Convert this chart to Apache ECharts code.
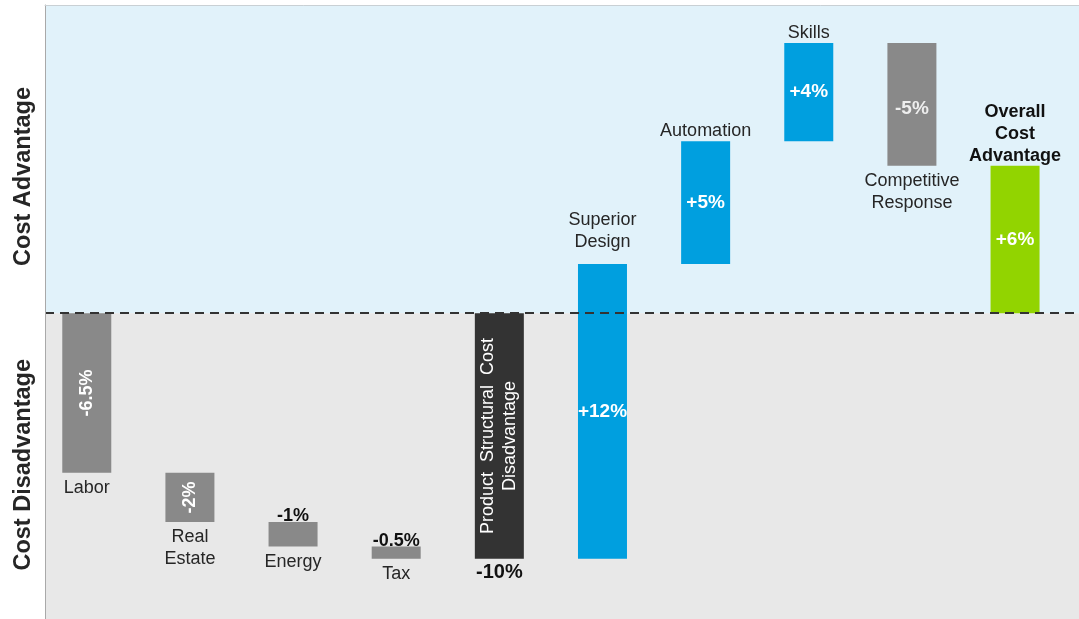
<!DOCTYPE html>
<html>
<head>
<meta charset="utf-8">
<script src="https://cdn.jsdelivr.net/npm/echarts@6/dist/echarts.min.js"></script>
<style>
html,body{margin:0;padding:0;background:#fff;}
#chart{width:1079px;height:619px;}
</style>
</head>
<body>
<div id="chart"></div>
<script>
// ---- data ----
const categories = ['Labor', 'Real\nEstate', 'Energy', 'Tax', 'Product  Structural  Cost\nDisadvantage',
  'Superior\nDesign', 'Automation', 'Skills', 'Competitive\nResponse', 'Overall\nCost\nAdvantage'];
const deltas = [-6.5, -2, -1, -0.5, -10, 12, 5, 4, -5, 6];
const isTotal = [false, false, false, false, true, false, false, false, false, true];
const valueLabels = ['-6.5%', '-2%', '-1%', '-0.5%', '-10%', '+12%', '+5%', '+4%', '-5%', '+6%'];
const axisTitles = ['Cost Advantage', 'Cost Disadvantage'];

// ---- layout / style config ----
const FONT = '"Liberation Sans", Arial, sans-serif';
const catPlace = ['below', 'below', 'below', 'below', 'rotated', 'above', 'above', 'above', 'below', 'above'];
const valPlace = ['rotated', 'rotated', 'above', 'above', 'below', 'inside', 'inside', 'inside', 'inside', 'inside'];
const catExtraGap = [0, 0, 0, 0, 0, 12, 0, 0, 0, 0];
const catBold = [false, false, false, false, false, false, false, false, false, true];

function barColor(i) {
  if (isTotal[i]) return deltas[i] < 0 ? '#333333' : '#92d400';
  return deltas[i] < 0 ? '#898989' : '#009fdf';
}

// waterfall rows built from the data
let run = 0;
const rows = deltas.map((d, i) => {
  let s, e;
  if (isTotal[i]) { s = 0; e = d; } else { s = run; e = run + d; }
  run = e;
  return [i, s, e];
});

const chart = echarts.init(document.getElementById('chart'), null, {renderer: 'canvas'});

function txt(x, y, text, opt) {
  return {
    type: 'text', x: x, y: y, rotation: opt.rotation || 0,
    style: {
      text: text, fill: opt.fill || '#262626',
      font: (opt.bold ? 'bold ' : '') + (opt.size || 18) + 'px ' + FONT,
      lineHeight: opt.lh || 22, align: 'center', verticalAlign: opt.va || 'middle'
    },
    z2: 10
  };
}

function renderItem(params, api) {
  const i = api.value(0), s = api.value(1), e = api.value(2);
  const pTop = api.coord([i, Math.max(s, e)]);
  const pBot = api.coord([i, Math.min(s, e)]);
  const w = 49;
  const cx = pTop[0], top = pTop[1], bot = pBot[1], mid = (top + bot) / 2;
  const children = [{
    type: 'rect', shape: {x: cx - w / 2, y: top, width: w, height: bot - top},
    style: {fill: barColor(i)}
  }];
  // category label
  const cp = catPlace[i];
  if (cp === 'below') children.push(txt(cx, bot + 4, categories[i], {va: 'top', bold: catBold[i]}));
  else if (cp === 'above') children.push(txt(cx, top + 1 - catExtraGap[i], categories[i], {va: 'bottom', bold: catBold[i], size: 18, fill: catBold[i] ? '#111' : '#262626'}));
  else if (cp === 'rotated') children.push(txt(cx, mid, categories[i], {rotation: Math.PI / 2, fill: '#ffffff'}));
  // value label
  const vp = valPlace[i];
  if (vp === 'inside') children.push(txt(cx, mid + (deltas[i] < 0 ? 4 : 0), valueLabels[i], {bold: true, size: 19, fill: deltas[i] < 0 ? '#eeeeee' : '#ffffff'}));
  else if (vp === 'rotated') children.push(txt(cx, mid, valueLabels[i], {rotation: Math.PI / 2, bold: true, fill: '#ffffff'}));
  else if (vp === 'above') children.push(txt(cx, top + 5, valueLabels[i], {va: 'bottom', bold: true, fill: '#111'}));
  else if (vp === 'below') children.push(txt(cx, bot + 3, valueLabels[i], {va: 'top', bold: true, fill: '#111', size: 20}));
  return {type: 'group', children: children};
}

const option = {
  animation: false,
  backgroundColor: '#ffffff',
  grid: {left: 45, top: 5, right: 0, bottom: 0, containLabel: false},
  xAxis: {
    type: 'value', position: 'top', min: -0.405, max: 9.62, z: 10,
    axisLine: {show: true, onZero: false, lineStyle: {color: '#c9d0d4', width: 1}},
    axisTick: {show: false}, axisLabel: {show: false}, splitLine: {show: false}
  },
  yAxis: {
    type: 'value', min: -12.45, max: 12.55, z: 10,
    axisLine: {show: true, onZero: false, lineStyle: {color: '#a9a9a9', width: 1}},
    axisTick: {show: false}, axisLabel: {show: false}, splitLine: {show: false}
  },
  graphic: [
    {type: 'text', left: 12, top: 87, rotation: Math.PI / 2,
      style: {text: axisTitles[0], font: 'bold 23.5px ' + FONT, fill: '#262626'}},
    {type: 'text', left: 12, top: 359, rotation: Math.PI / 2,
      style: {text: axisTitles[1], font: 'bold 23.5px ' + FONT, fill: '#262626'}}
  ],
  series: [
    {
      type: 'custom', z: 1, silent: true, data: [],
      renderItem: () => null,
      markArea: {
        silent: true,
        data: [
          [{yAxis: 0, itemStyle: {color: '#e1f2fa'}}, {yAxis: 12.55}],
          [{yAxis: -12.45, itemStyle: {color: '#e8e8e8'}}, {yAxis: 0}]
        ]
      }
    },
    {
      type: 'custom', z: 3, silent: true,
      renderItem: renderItem,
      encode: {x: 0, y: [1, 2]},
      data: rows
    },
    {
      type: 'custom', z: 5, silent: true, data: [],
      renderItem: () => null,
      markLine: {
        silent: true, symbol: 'none', label: {show: false},
        lineStyle: {type: [9, 6], color: '#333333', width: 2},
        data: [{yAxis: 0}]
      }
    }
  ]
};
chart.setOption(option);
</script>
</body>
</html>
